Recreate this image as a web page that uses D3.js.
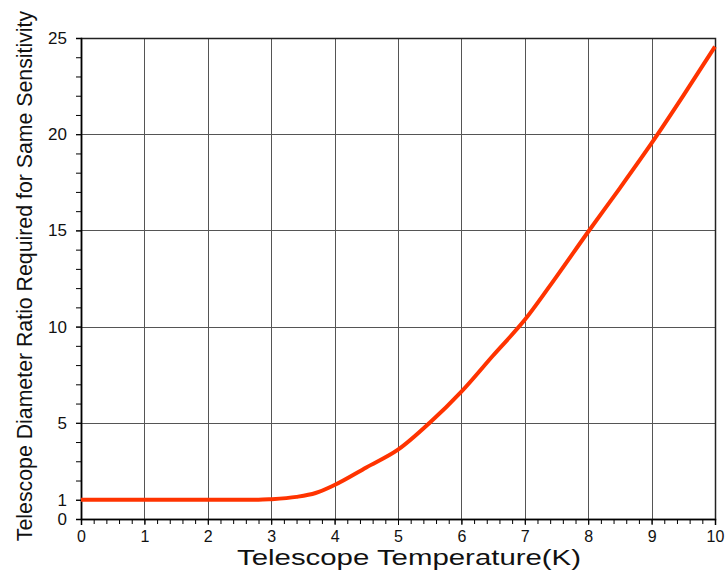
<!DOCTYPE html>
<html>
<head>
<meta charset="utf-8">
<script src="https://cdn.jsdelivr.net/npm/d3@7"></script>
<style>
  body { margin: 0; background: #fff; }
  svg { display: block; font-family: "Liberation Sans", Arial, sans-serif; }
</style>
</head>
<body>
<div id="chart"></div>
<script>
const width = 727;
const height = 570;
const margin = { top: 38, right: 12, bottom: 51, left: 81 };

// data
const temperature = [0, 1, 2, 2.8, 3, 3.4, 3.7, 4, 4.5, 5, 5.5, 6, 6.5, 7, 7.5, 8, 8.5, 9, 9.5, 10];
const diameterRatio = [1, 1, 1, 1, 1.03, 1.15, 1.35, 1.77, 2.68, 3.6, 5.0, 6.62, 8.5, 10.35, 12.6, 14.93, 17.2, 19.53, 22.0, 24.55];
const xTicks = [0, 1, 2, 3, 4, 5, 6, 7, 8, 9, 10];
const yTickLabels = [0, 1, 5, 10, 15, 20, 25];
const yGrid = [5, 10, 15, 20];
const xLabel = 'Telescope Temperature(K)';
const yLabel = 'Telescope Diameter Ratio Required for Same Sensitivity';

const usableArea = {
  left: margin.left,
  right: width - margin.right,
  top: margin.top,
  bottom: height - margin.bottom,
};

const svg = d3.select('#chart').append('svg')
  .attr('width', width)
  .attr('height', height);

const xScale = d3.scaleLinear().domain([0, 10]).range([usableArea.left, usableArea.right]);
const yScale = d3.scaleLinear().domain([0, 25]).range([usableArea.bottom, usableArea.top]);

// gridlines
svg.append('g')
  .selectAll('line')
  .data(xTicks.filter((d) => d > 0 && d < 10))
  .join('line')
  .attr('x1', (d) => Math.round(xScale(d)) + 0.5)
  .attr('x2', (d) => Math.round(xScale(d)) + 0.5)
  .attr('y1', usableArea.top)
  .attr('y2', usableArea.bottom)
  .attr('stroke', '#555')
  .attr('stroke-width', 1);

svg.append('g')
  .selectAll('line')
  .data(yGrid)
  .join('line')
  .attr('x1', usableArea.left)
  .attr('x2', usableArea.right)
  .attr('y1', (d) => Math.round(yScale(d)) + 0.5)
  .attr('y2', (d) => Math.round(yScale(d)) + 0.5)
  .attr('stroke', '#555')
  .attr('stroke-width', 1);

// frame
svg.append('rect')
  .attr('x', usableArea.left + 0.5)
  .attr('y', usableArea.top + 0.5)
  .attr('width', usableArea.right - usableArea.left)
  .attr('height', usableArea.bottom - usableArea.top)
  .attr('fill', 'none')
  .attr('stroke', '#222')
  .attr('stroke-width', 1.5);

// x axis: major + minor ticks
const xAxis = svg.append('g')
  .attr('transform', `translate(0, ${usableArea.bottom})`);
xAxis.append('g')
  .call(d3.axisBottom(xScale).tickValues(d3.range(0, 10.001, 0.2)).tickSize(5).tickFormat(''))
  .call((g) => g.select('.domain').remove());
xAxis.append('g')
  .call(d3.axisBottom(xScale).tickValues(xTicks).tickSize(6).tickPadding(6))
  .call((g) => g.select('.domain').attr('stroke-width', 1.5))
  .call((g) => g.selectAll('text').attr('font-size', 16).attr('font-family', '"Liberation Sans", Arial, sans-serif').attr('fill', '#111'));

// y axis: minor ticks every unit
const yAxis = svg.append('g')
  .attr('transform', `translate(${usableArea.left}, 0)`);
yAxis.append('g')
  .call(d3.axisLeft(yScale).tickValues(d3.range(0, 26, 1)).tickSize(5).tickFormat(''))
  .call((g) => g.select('.domain').remove());
yAxis.append('g')
  .call(d3.axisLeft(yScale).tickValues(yTickLabels).tickSize(5).tickPadding(9))
  .call((g) => g.select('.domain').attr('stroke-width', 1.5))
  .call((g) => g.selectAll('text').attr('font-size', 17).attr('font-family', '"Liberation Sans", Arial, sans-serif').attr('fill', '#111'));

// curve
const line = d3.line()
  .x((d, i) => xScale(temperature[i]))
  .y((d) => yScale(d))
  .curve(d3.curveMonotoneX);

svg.append('path')
  .datum(diameterRatio)
  .attr('d', line)
  .attr('fill', 'none')
  .attr('stroke', '#ff3300')
  .attr('stroke-width', 4)
  .attr('stroke-linejoin', 'round');

// axis titles
svg.append('text')
  .attr('x', 409)
  .attr('y', 565)
  .attr('text-anchor', 'middle')
  .attr('font-size', 22)
  .attr('textLength', 344)
  .attr('lengthAdjust', 'spacingAndGlyphs')
  .attr('fill', '#111')
  .text(xLabel);

svg.append('text')
  .attr('transform', `translate(32, 276) rotate(-90)`)
  .attr('text-anchor', 'middle')
  .attr('font-family', '"Liberation Sans Narrow", "Arial Narrow", "Liberation Sans", sans-serif')
  .attr('font-size', 21.3)
  .attr('fill', '#111')
  .text(yLabel);
</script>
</body>
</html>
